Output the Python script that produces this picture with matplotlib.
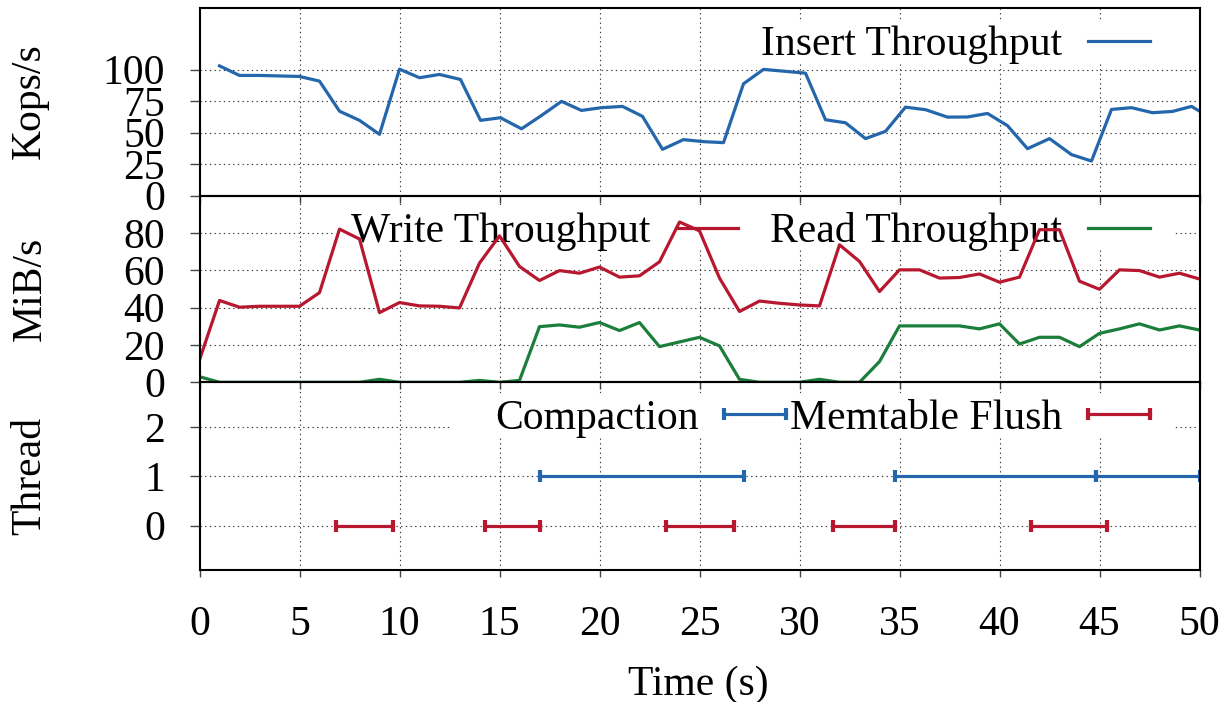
import numpy as np
import matplotlib.pyplot as plt
from matplotlib.patches import Rectangle

plt.rcParams['font.family'] = ['Liberation Serif', 'DejaVu Serif']
plt.rcParams['font.size'] = 30

blue = '#2466ab'
red = '#b8182f'
green = '#1b7e3a'

# insert throughput (Kops/s)
ins_t = [1.0, 2.0, 3.0, 4.0, 5.0, 6.0, 7.0, 8.0, 9.0, 10.0, 11.0, 12.0, 13.05, 14.05,
         15.05, 16.1, 17.1, 18.1, 19.1, 20.1, 21.15, 22.15, 23.15, 24.2, 25.2, 26.2,
         27.2, 28.2, 29.2, 30.3, 31.3, 32.3, 33.3, 34.3, 35.3, 36.3, 37.4, 38.4, 39.4,
         40.4, 41.4, 42.5, 43.6, 44.6, 45.6, 46.6, 47.65, 48.65, 49.6, 50.0]
ins_v = [103, 95.4, 95.4, 95, 94.6, 90.9, 67, 59.7, 48.6, 100.4, 93.6, 96.2, 92.2,
         59.7, 61.8, 53, 63.6, 74.8, 67.6, 69.8, 70.8, 62.9, 36.7, 44.4, 42.8, 42,
         88.8, 100.2, 98.8, 97.2, 60.2, 57.8, 45.2, 51, 70.2, 68.2, 62.3, 62.4, 65.2,
         55.5, 37.2, 45.2, 32.5, 27.4, 68.4, 69.8, 65.8, 66.8, 70.8, 67]

# write / read throughput (MiB/s), one sample per second
io_t = list(range(0, 51))
write_v = [12.0, 43.8, 40.2, 40.7, 40.7, 40.7, 48.0, 82.0, 76.7, 37.3, 42.7, 40.9,
           40.7, 39.8, 63.8, 78.4, 62.0, 54.5, 59.8, 58.4, 61.7, 56.3, 57.0, 64.5,
           85.8, 81.1, 55.8, 37.9, 43.5, 42.3, 41.4, 40.9, 73.6, 64.7, 48.6, 60.2,
           60.2, 55.8, 56.1, 58.0, 53.6, 56.3, 81.7, 81.7, 54.1, 49.8, 60.2, 59.8,
           56.3, 58.4, 55.3]
read_v = [3.0, 0, 0, 0, 0, 0, 0, 0, 0, 1.6, 0, 0, 0, 0, 1.0, 0, 1.0, 29.8, 30.7,
          29.5, 32.0, 27.7, 32.0, 19.1, 21.6, 24.1, 19.5, 1.6, 0, 0, 0, 1.6, 0, 0,
          11.1, 30.2, 30.2, 30.2, 30.2, 28.6, 31.3, 20.5, 24.1, 24.1, 19.1, 26.2,
          28.6, 31.3, 28.0, 30.2, 28.0]

# thread activity intervals
compact_start = [17.0, 34.75, 44.8]
compact_end = [27.2, 44.8, 50.0]
flush_start = [6.8, 14.25, 23.3, 31.65, 41.55]
flush_end = [9.65, 17.0, 26.7, 34.75, 45.35]

fig = plt.figure(figsize=(12.28, 7.02), dpi=100)
W, H = 1228.0, 702.0
left = 199.5 / W
width = 1000 / W


def make_ax(top, bottom):
    ax = fig.add_axes([left, (H - bottom) / H, width, (bottom - top) / H])
    ax.set_facecolor('none')
    ax.set_axisbelow(True)
    ax.set_xlim(0, 50)
    ax.set_xticks(range(0, 51, 5))
    ax.grid(True, color='#333333', lw=0.8, ls=(0, (1.2, 3)))
    for s in ax.spines.values():
        s.set_linewidth(1.5)
    ax.tick_params(axis='y', direction='out', length=7, width=1, color='#444444', pad=18)
    ax.tick_params(axis='x', direction='out', length=5, width=1, color='#444444', pad=20.5)
    return ax


ax1 = make_ax(8, 195.5)
ax2 = make_ax(195.5, 382.3)
ax3 = make_ax(382.3, 570)

# panel 1
ax1.set_ylim(0, 149)
ax1.set_yticks([0, 25, 50, 75, 100])
ax1.tick_params(axis='x', labelbottom=False)
ax1.plot(ins_t, ins_v, color=blue, lw=2.3, label='Insert Throughput', zorder=2)

# panel 2
ax2.set_ylim(0, 100)
ax2.set_yticks([0, 20, 40, 60, 80])
ax2.tick_params(axis='x', labelbottom=False)
ax2.plot(io_t, write_v, color=red, lw=2.3, label='Write Throughput', zorder=2)
ax2.plot(io_t, read_v, color=green, lw=2.3, label='Read Throughput', zorder=2)

# panel 3
ax3.set_ylim(-0.9, 2.9)
ax3.set_yticks([0, 1, 2])
for i in range(len(compact_start)):
    ax3.plot([compact_start[i], compact_end[i]], [1, 1], color=blue, lw=2.3,
             marker='|', ms=8, mew=3, label='Compaction' if i == 0 else None, zorder=2)
for i in range(len(flush_start)):
    ax3.plot([flush_start[i], flush_end[i]], [0, 0], color=red, lw=2.3,
             marker='|', ms=8, mew=3, label='Memtable Flush' if i == 0 else None, zorder=2)

# white key backgrounds (gnuplot style)
for ax, x0, x1, y0, y1, top, bottom in [
        (ax1, 736, 1175, 20, 63, 8, 195.5),
        (ax2, 335, 1175, 205, 250, 195.5, 382.3),
        (ax3, 450, 1175, 393, 437, 382.3, 570)]:
    h = bottom - top
    ax.add_patch(Rectangle(((x0 - 199.5) / 1000, (bottom - y1) / h),
                           (x1 - x0) / 1000, (y1 - y0) / h,
                           transform=ax.transAxes, facecolor='white',
                           edgecolor='none', zorder=1))

leg_kw = dict(loc='center right', frameon=False, markerfirst=False, borderpad=0,
              borderaxespad=0, handletextpad=0.62, handlelength=1.49)
l1 = ax1.legend(bbox_to_anchor=(0.9505, 0.803), **leg_kw)
l2 = ax2.legend(bbox_to_anchor=(0.9505, 0.806), ncol=2, columnspacing=0.77, **leg_kw)
leg_kw.update(handletextpad=0.3, handlelength=2.1)
l3 = ax3.legend(bbox_to_anchor=(0.963, 0.806), ncol=2, columnspacing=-0.2,
                numpoints=2, **leg_kw)
for l in (l1, l2, l3):
    l.set_zorder(1.5)

fig.text(30 / W, (H - 101.5) / H, 'Kops/s', rotation=90, ha='center', va='center')
fig.text(30 / W, (H - 289) / H, 'MiB/s', rotation=90, ha='center', va='center')
fig.text(30 / W, (H - 476) / H, 'Thread', rotation=90, ha='center', va='center')
fig.text(698.5 / W, (H - 695) / H, 'Time (s)', ha='center', va='baseline')

fig.savefig('out.png', dpi=100)
